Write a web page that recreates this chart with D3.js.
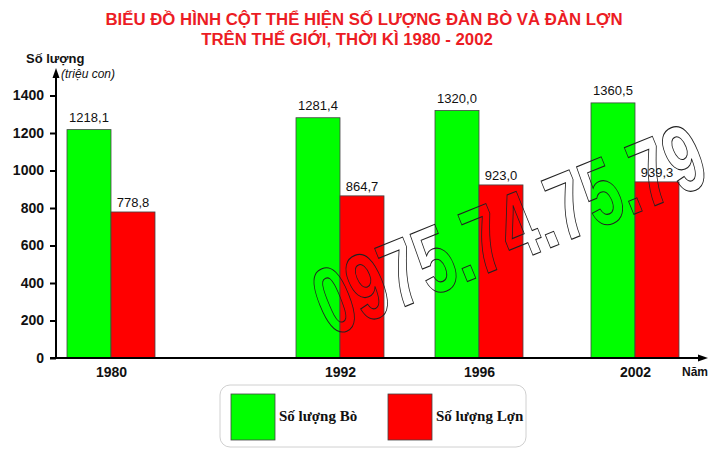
<!DOCTYPE html>
<html>
<head>
<meta charset="utf-8">
<script src="https://cdn.jsdelivr.net/npm/d3@7/dist/d3.min.js"></script>
<style>
  html, body { margin: 0; padding: 0; background: #fff; }
  svg { display: block; }
</style>
</head>
<body>
<div id="chart"></div>
<script>
// ---- data ----
const years = [1980, 1992, 1996, 2002];
const cattle = [1218.1, 1281.4, 1320.0, 1360.5];   // Số lượng Bò
const pigs = [778.8, 864.7, 923.0, 939.3];         // Số lượng Lợn
const yTicks = [0, 200, 400, 600, 800, 1000, 1200, 1400];
const seriesNames = ["Số lượng Bò", "Số lượng Lợn"];
const seriesColors = ["#00ff00", "#ff0000"];
const titleLines = ["BIỂU ĐỒ HÌNH CỘT THỂ HIỆN SỐ LƯỢNG ĐÀN BÒ VÀ ĐÀN LỢN",
                    "TRÊN THẾ GIỚI, THỜI KÌ 1980 - 2002"];
const watermark = "0975.74.75.79";

const W = 723, H = 452;
const FONT = "Liberation Sans, Arial, sans-serif";
const svg = d3.select("#chart").append("svg").attr("width", W).attr("height", H);
const fmt = v => v.toFixed(1).replace(".", ",");

// scales
const y = d3.scaleLinear().domain([0, 1400]).range([358, 95.5]);
const x = d3.scaleLinear().domain(years).range([111, 340, 479, 635]);
const barW = 44;
const axisX = 56;

// title
svg.append("text").attr("x", 364).attr("y", 25).attr("text-anchor", "middle")
  .attr("font-family", FONT).attr("font-weight", "bold")
  .attr("font-size", 16.8).attr("fill", "#ec1c24").text(titleLines[0]);
svg.append("text").attr("x", 347).attr("y", 45).attr("text-anchor", "middle")
  .attr("font-family", FONT).attr("font-weight", "bold")
  .attr("font-size", 16.8).attr("fill", "#ec1c24").text(titleLines[1]);

// bars
const data = years.map((yr, i) => ({ yr, vals: [cattle[i], pigs[i]] }));
const g = svg.append("g");
data.forEach(d => {
  d.vals.forEach((v, s) => {
    const bx = x(d.yr) - barW + s * barW;
    g.append("rect").attr("x", bx).attr("y", y(v)).attr("width", barW)
      .attr("height", y(0) - y(v)).attr("fill", seriesColors[s])
      .attr("stroke", "#444").attr("stroke-width", 0.8);
    g.append("text").attr("x", bx + barW / 2).attr("y", y(v) - (s === 0 ? 8 : 5))
      .attr("text-anchor", "middle").attr("font-family", FONT)
      .attr("font-size", 13).attr("fill", "#111").text(fmt(v));
  });
});

// watermark (outlined, rotated, condensed)
svg.append("text")
  .attr("transform", "translate(330,337) rotate(-22) scale(0.68,1)")
  .attr("font-family", FONT).attr("font-weight", "bold").attr("font-size", 95)
  .attr("fill", "none").attr("stroke", "#222").attr("stroke-width", 1.1)
  .text(watermark);

// y axis
const yAxis = d3.axisLeft(y).tickValues(yTicks).tickSize(6).tickPadding(6).tickFormat(d3.format("d"));
const ya = svg.append("g").attr("transform", `translate(${axisX},0)`).call(yAxis);
ya.select(".domain").remove();
ya.selectAll(".tick line").attr("stroke", "#000").attr("stroke-width", 2);
ya.selectAll(".tick text").attr("font-family", FONT)
  .attr("font-weight", "bold").attr("font-size", 14).attr("fill", "#111");
svg.append("line").attr("x1", axisX).attr("x2", axisX).attr("y1", y(0) + 1).attr("y2", 76)
  .attr("stroke", "#000").attr("stroke-width", 2);
svg.append("path").attr("d", `M${axisX - 3.5},78 L${axisX},68 L${axisX + 3.5},78 Z`).attr("fill", "#000");

// x axis
const xAxis = d3.axisBottom(x).tickValues(years).tickSize(0).tickPadding(9).tickFormat(d3.format("d"));
const xa = svg.append("g").attr("transform", `translate(0,${y(0)})`).call(xAxis);
xa.select(".domain").remove();
xa.selectAll(".tick text").attr("font-family", FONT)
  .attr("font-weight", "bold").attr("font-size", 14).attr("fill", "#111");
svg.append("line").attr("x1", 50).attr("x2", 700).attr("y1", y(0)).attr("y2", y(0))
  .attr("stroke", "#000").attr("stroke-width", 2);
svg.append("path").attr("d", `M698,${y(0) - 3.5} L708,${y(0)} L698,${y(0) + 3.5} Z`).attr("fill", "#000");
svg.append("text").attr("x", 682).attr("y", 376).attr("font-family", FONT)
  .attr("font-weight", "bold").attr("font-size", 12).attr("fill", "#111").text("Năm");

// axis title
svg.append("text").attr("x", 26).attr("y", 63).attr("font-family", FONT)
  .attr("font-weight", "bold").attr("font-size", 13).attr("fill", "#111").text("Số lượng");
svg.append("text").attr("x", 61).attr("y", 78).attr("font-family", FONT)
  .attr("font-style", "italic").attr("font-size", 12).attr("fill", "#111").text("(triệu con)");

// legend
const lg = svg.append("g");
lg.append("rect").attr("x", 220).attr("y", 385).attr("width", 306).attr("height", 62)
  .attr("rx", 10).attr("fill", "#fff").attr("stroke", "#d0d0d0").attr("stroke-width", 1);
const legX = [231, 388];
seriesNames.forEach((name, i) => {
  lg.append("rect").attr("x", legX[i]).attr("y", 394).attr("width", 44).attr("height", 46)
    .attr("fill", seriesColors[i]).attr("stroke", "#444").attr("stroke-width", 0.8);
  lg.append("text").attr("x", legX[i] + 48).attr("y", 421)
    .attr("font-family", "Liberation Serif, Times New Roman, serif").attr("font-weight", "bold")
    .attr("font-size", 15).attr("fill", "#111").text(name);
});
</script>
</body>
</html>
